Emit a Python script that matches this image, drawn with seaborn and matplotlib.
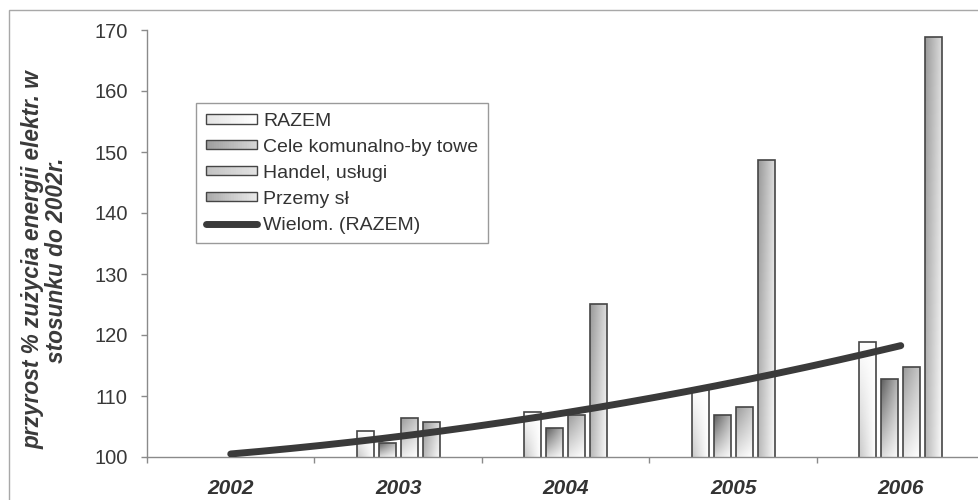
import numpy as np
import pandas as pd
import matplotlib
matplotlib.use("Agg")
import matplotlib.pyplot as plt
from matplotlib.patches import Rectangle, Patch
from matplotlib.lines import Line2D
from matplotlib.legend_handler import HandlerBase
import seaborn as sns

# Data: growth of electricity use relative to 2002 (2002 = 100)
years = ["2002", "2003", "2004", "2005", "2006"]
series = ["RAZEM", "Cele komunalno-by towe", "Handel, usługi", "Przemy sł"]
razem = [100.0, 104.3, 107.4, 111.1, 118.8]
komunalne = [100.0, 102.3, 104.7, 106.9, 112.8]
handel = [100.0, 106.4, 106.9, 108.2, 114.8]
przemysl = [100.0, 105.7, 125.1, 148.7, 168.9]
trend_label = "Wielom. (RAZEM)"
ylabel_text = "przyrost % zużycia energii elektr. w\nstosunku do 2002r."
y_ticks = [100, 110, 120, 130, 140, 150, 160, 170]

values = [razem, komunalne, handel, przemysl]
df = pd.DataFrame({
    "Rok": years * len(series),
    "Seria": [s for s in series for _ in years],
    "Wartość": [v for vals in values for v in vals],
})

sns.set_theme(style="white")
plt.rcParams["font.family"] = ["Liberation Sans", "DejaVu Sans"]

fig = plt.figure(figsize=(9.79, 5.0), dpi=100)
fig.patch.set_facecolor("white")
ax = fig.add_axes([147 / 979, 43 / 500, 837.5 / 979, 427 / 500])

sns.barplot(data=df, x="Rok", y="Wartość", hue="Seria", hue_order=series,
            order=years, width=0.525, gap=0.23, palette=["white"] * 4,
            edgecolor="#454545", linewidth=1.2, legend=False, ax=ax)

ymin, ymax = 100, 170


# Gradient fills for each series: brightness as a function of (u, v),
# u running left->right and v bottom->top within a bar.
def grad_razem(u, v):
    return 1.0 - 0.22 * (1 - v) * (1 - u)


def grad_komunalne(u, v):
    return 0.98 - 0.5 * v * (1 - 0.45 * u) - 0.12 * (1 - u)


def grad_handel(u, v):
    return 1.0 - 0.32 * v * (1 - 0.3 * u) - 0.08 * (1 - u)


def grad_przemysl(u, v):
    return 0.98 - 0.26 * (1 - u) - 0.12 * v


grads = [grad_razem, grad_komunalne, grad_handel, grad_przemysl]
uu, vv = np.meshgrid(np.linspace(0, 1, 40), np.linspace(0, 1, 120))

for cont, gfun in zip(ax.containers, grads):
    for bar in cont:
        x0 = bar.get_x()
        w = bar.get_width()
        top = bar.get_y() + bar.get_height()
        bottom = max(bar.get_y(), ymin)
        if top <= bottom + 1e-9:
            bar.set_visible(False)
            continue
        bar.set_facecolor("none")
        bar.set_zorder(2.2)
        img = np.clip(gfun(uu, vv), 0, 1)
        im = ax.imshow(img, extent=(x0, x0 + w, bottom, top), origin="lower",
                       cmap="gray", vmin=0, vmax=1, aspect="auto",
                       interpolation="bilinear", zorder=2.1)
        im.set_clip_path(bar)

# Second-order polynomial trend of the total
xpos = np.arange(len(years))
coef = np.polyfit(xpos, razem, 2)
xs = np.linspace(0, len(years) - 1, 200)
ys = np.polyval(coef, xs)
sns.lineplot(x=xs, y=ys, ax=ax, color="#3a3a3a", linewidth=5.0, zorder=3,
             sort=False)
for ln in ax.lines:
    ln.set_solid_capstyle("round")

ax.set_aspect("auto")
ax.set_xlim(-0.5, 4.5)
ax.set_ylim(ymin, ymax)

# Axes styling
for side in ["top", "right"]:
    ax.spines[side].set_visible(False)
for side in ["left", "bottom"]:
    ax.spines[side].set_color("#8a8a8a")
    ax.spines[side].set_linewidth(1.0)

ax.set_yticks(y_ticks)
ax.set_yticklabels([str(t) for t in y_ticks])
ax.tick_params(axis="y", direction="out", length=4, width=1, color="#8a8a8a",
               pad=10, labelsize=14.5, labelcolor="#383838", left=True)
ax.set_xticks(xpos)
ax.set_xticklabels(years, fontsize=15, fontweight="bold", fontstyle="italic",
                   color="#333333")
ax.tick_params(axis="x", which="major", length=0, pad=16)
ax.set_xticks(np.arange(-0.5, len(years)), minor=True)
ax.tick_params(axis="x", which="minor", direction="out", length=4, width=1,
               color="#8a8a8a", bottom=True)
ax.set_xlabel("")
ax.set_ylabel("")
ax.grid(False)

fig.text(45 / 979, 0.48, ylabel_text, rotation=90, ha="center", va="center",
         multialignment="center", fontsize=16.3, fontweight="bold",
         fontstyle="italic", color="#3a3a3a", linespacing=1.05)


# Legend keys drawn as thin gradient strips
class GradientKey(HandlerBase):
    def create_artists(self, legend, orig_handle, xdescent, ydescent,
                       width, height, fontsize, trans):
        gfun = orig_handle.gfun
        n = 24
        arts = []
        for i in range(n):
            u = (i + 0.5) / n
            g = float(np.clip(gfun(u, 0.5), 0, 1))
            arts.append(Rectangle((-xdescent + i * width / n, -ydescent),
                                  width / n + 0.01, height,
                                  facecolor=(g, g, g), edgecolor="none",
                                  linewidth=0, transform=trans))
        arts.append(Rectangle((-xdescent, -ydescent), width, height,
                              fill=False, edgecolor="#454545", linewidth=1.0,
                              transform=trans))
        return arts


handles = []
for gfun in grads:
    p = Patch(facecolor="white")
    p.gfun = gfun
    handles.append(p)
handles.append(Line2D([0], [0], color="#3a3a3a", linewidth=5.0,
                      solid_capstyle="round"))
labels = series + [trend_label]
leg = ax.legend(handles, labels, loc="upper left",
                bbox_to_anchor=(196 / 979, 1 - 103 / 500),
                bbox_transform=fig.transFigure, borderaxespad=0,
                fontsize=14, frameon=True, fancybox=False, shadow=False,
                framealpha=1, edgecolor="#9a9a9a", handlelength=2.65,
                handleheight=0.38, handletextpad=0.3, labelspacing=0.46,
                borderpad=0.5, handler_map={Patch: GradientKey()})
leg.get_frame().set_linewidth(1.0)
for t in leg.get_texts():
    t.set_color("#333333")

# Outer chart border
fig.patches.append(Rectangle((9 / 979, -0.2), 1.2, 0.98 + 0.2,
                             transform=fig.transFigure, fill=False,
                             edgecolor="#a8a8a8", linewidth=1.0))

fig.savefig("out.png", dpi=100)
